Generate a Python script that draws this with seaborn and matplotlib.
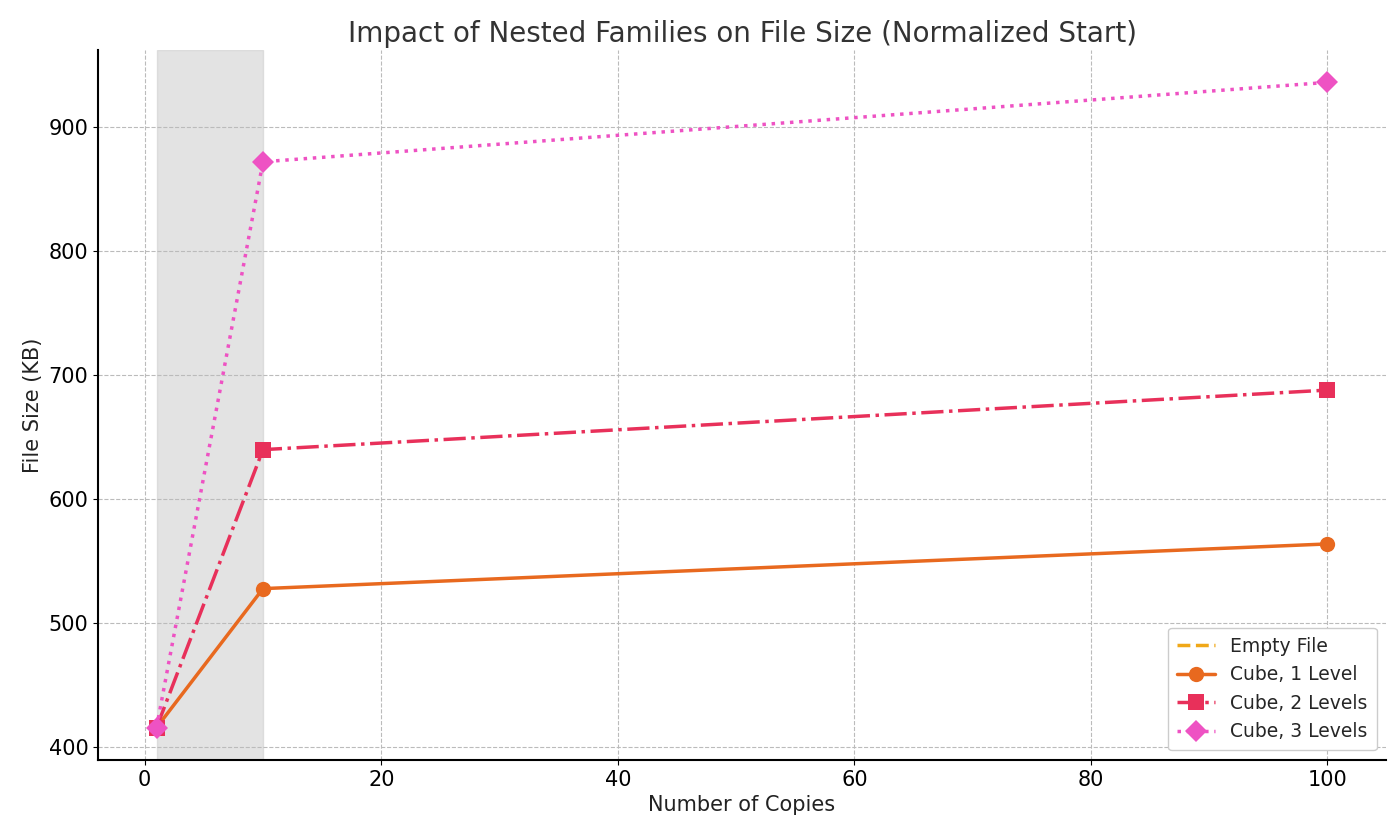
import matplotlib
matplotlib.use("Agg")
import matplotlib.pyplot as plt
import seaborn as sns
import pandas as pd

copies = [1, 10, 100]
empty_x = [1]
empty_file = [416]
cube_1 = [416, 528, 564]
cube_2 = [416, 640, 688]
cube_3 = [416, 872, 936]

sns.set_style("ticks")
plt.rcParams['font.family'] = ['DejaVu Sans']

fig, ax = plt.subplots(figsize=(14, 8.35), dpi=100)

ax.axvspan(1, 10, color="#cccccc", alpha=0.55, zorder=0)

sns.lineplot(x=empty_x, y=empty_file, ax=ax, color="#F0A818", linestyle="--",
             linewidth=2.5, label="Empty File")
sns.lineplot(x=copies, y=cube_1, ax=ax, color="#E8691F", linestyle="-",
             linewidth=2.5, marker="o", markersize=11, markeredgewidth=0, label="Cube, 1 Level")
sns.lineplot(x=copies, y=cube_2, ax=ax, color="#E8305A", linestyle="-.",
             linewidth=2.5, marker="s", markersize=11, markeredgewidth=0, label="Cube, 2 Levels")
sns.lineplot(x=copies, y=cube_3, ax=ax, color="#EE52C3", linestyle=":",
             linewidth=2.5, marker="D", markersize=11, markeredgewidth=0, label="Cube, 3 Levels")

ax.grid(True, linestyle="--", color="#bbbbbb", linewidth=0.8)
ax.set_axisbelow(True)
sns.despine(ax=ax)
for s in ['left', 'bottom']:
    ax.spines[s].set_linewidth(1.5)
    ax.spines[s].set_color("black")

ax.set_title("Impact of Nested Families on File Size (Normalized Start)", fontsize=20, color="#333333")
ax.set_xlabel("Number of Copies", fontsize=15, color="#222222")
ax.set_ylabel("File Size (KB)", fontsize=15, color="#222222")
ax.tick_params(labelsize=15, colors="black")
leg = ax.legend(loc="lower right", fontsize=13.5, framealpha=1, borderpad=0.5)
leg.get_frame().set_edgecolor("#cccccc")

fig.subplots_adjust(left=0.07, right=0.99, top=0.94, bottom=0.09)
fig.savefig("out.png", dpi=100)
